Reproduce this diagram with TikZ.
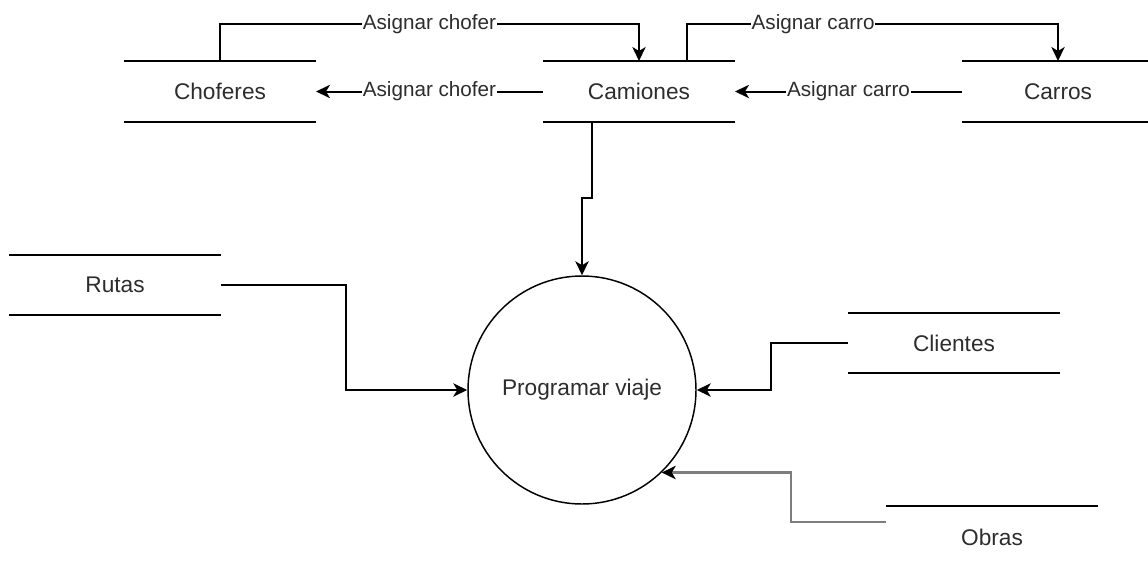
\documentclass[tikz,border=0pt]{standalone}
\usepackage{fontspec}
\setmainfont{Liberation Sans}
\usetikzlibrary{arrows.meta}

\definecolor{texto}{RGB}{45,45,45}
\definecolor{gris}{RGB}{125,125,125}

\tikzset{every picture/.style={line width=1.5pt}}

\begin{document}
\begin{tikzpicture}[x=0.75pt,y=0.75pt,yscale=-1,xscale=1,
  almacen/.style={minimum width=142.5pt, minimum height=44.25pt, inner sep=0pt, text=texto, font=\fontsize{17}{20}\selectfont},
  proceso/.style={circle, draw, line width=1.1pt, minimum size=171pt, inner sep=0pt, text=texto, font=\fontsize{17}{20}\selectfont},
  flujo/.style={-{Stealth[length=10.5pt,width=10pt,inset=3pt,color=black]}},
  etiqueta/.style={fill=white, inner sep=0.5pt, text=texto, font=\fontsize{15.5}{18}\selectfont}]
%set diagram size
\useasboundingbox (0,0) rectangle (1148,564);

%Shape: Data stores
\node [almacen] (choferes) at (220,91.5) {Choferes};
\node [almacen] (camiones) at (639,91.5) {Camiones};
\node [almacen] (carros) at (1058,91.5) {Carros};
\node [almacen, minimum width=157.5pt, minimum height=43.5pt] (rutas) at (115,285) {Rutas};
\node [almacen, minimum width=157.5pt, minimum height=43.5pt] (clientes) at (954,343) {Clientes};
\node [almacen, minimum width=157.5pt, minimum height=45pt] (obras) at (992,537) {Obras};
\foreach \s in {choferes,camiones,carros,rutas,clientes,obras}
  \draw (\s.north west) -- (\s.north east) (\s.south west) -- (\s.south east);

%Shape: Circle
\node [proceso] (viaje) at (582,390) {Programar viaje};

%Straight Lines: top flows
\draw [flujo] (choferes.north) -- ++(0,-37) -| node [pos=0.25, etiqueta] {Asignar chofer} (camiones.north);
\draw [flujo] ([xshift=36pt]camiones.north) -- ++(0,-37) -| node [pos=0.17, etiqueta] {Asignar carro} (carros.north);
\draw [flujo] (camiones.west) -- node [etiqueta] {Asignar chofer} (choferes.east);
\draw [flujo] (carros.west) -- node [etiqueta] {Asignar carro} (camiones.east);

%Straight Lines: into process
\coordinate (codo) at (582,198);
\draw [flujo] ([xshift=-35.25pt]camiones.south) |- (codo) -- (viaje.north);
\draw [flujo] (rutas.east) -- ++(125,0) |- (viaje.west);
\draw [flujo] (clientes.west) -- ++(-77,0) |- (viaje.east);
\draw [flujo, color=gris, line width=2.2pt] ([yshift=-11.25pt]obras.west) -- ++(-95,0) |- (viaje.-46);
\end{tikzpicture}
\end{document}
